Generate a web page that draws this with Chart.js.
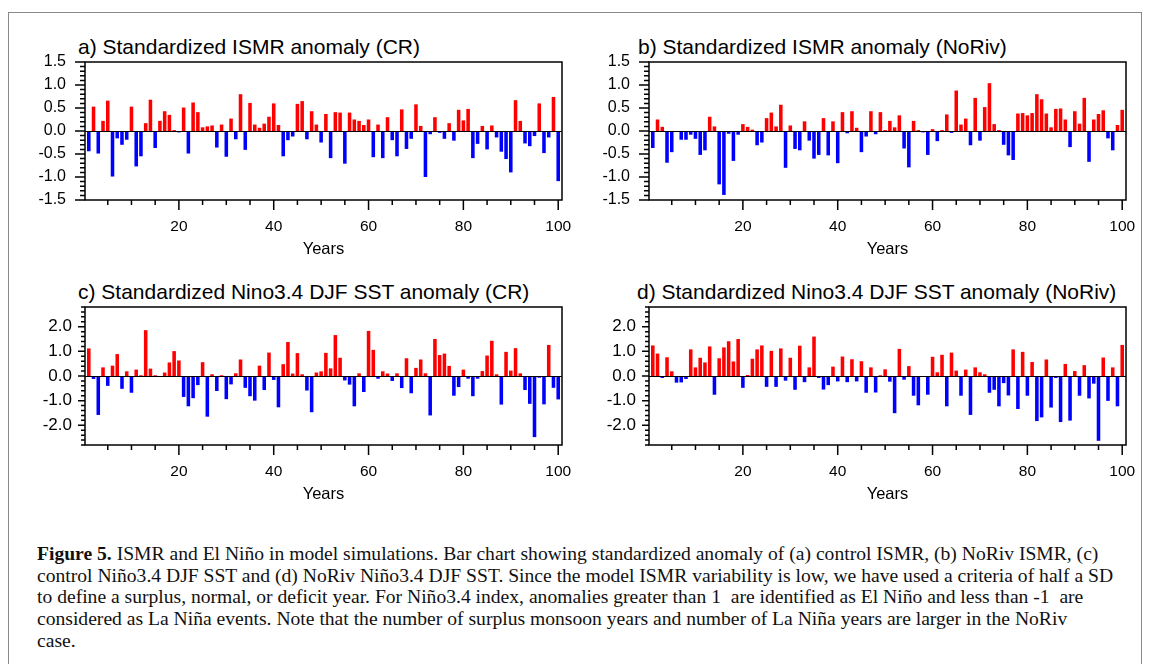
<!DOCTYPE html>
<html>
<head>
<meta charset="utf-8">
<script src="https://cdn.jsdelivr.net/npm/chart.js@4.4.1/dist/chart.umd.min.js"></script>
<style>
  html, body { margin: 0; padding: 0; background: #fff; }
  body { width: 1152px; height: 664px; position: relative; overflow: hidden; }
  .frame { position: absolute; left: 8px; top: 12px; width: 1134px; height: 700px; border: 1.5px solid #8a8a8a; box-sizing: border-box; }
  .panel { position: absolute; width: 555px; height: 215px; }
  .ptitle { position: absolute; font-family: "Liberation Sans", Arial, sans-serif; font-size: 21px; line-height: 24px; color: #000; white-space: nowrap; }
  .caption { position: absolute; left: 37px; top: 543px; font-family: "Liberation Serif", "Times New Roman", serif; font-size: 19.6px; line-height: 21.7px; color: #111; }
  .caption div { white-space: nowrap; }
</style>
</head>
<body>
<div class="frame"></div>

<div class="ptitle" style="left:78px; top:35px;">a) Standardized ISMR anomaly (CR)</div>
<div class="ptitle" style="left:638px; top:35px;">b) Standardized ISMR anomaly (NoRiv)</div>
<div class="ptitle" style="left:78px; top:280px;">c) Standardized Nino3.4 DJF SST anomaly (CR)</div>
<div class="ptitle" style="left:637px; top:280px;">d) Standardized Nino3.4 DJF SST anomaly (NoRiv)</div>

<div class="panel" style="left:20px; top:47px;"><canvas id="chartA"></canvas></div>
<div class="panel" style="left:584px; top:47px;"><canvas id="chartB"></canvas></div>
<div class="panel" style="left:20px; top:292px;"><canvas id="chartC"></canvas></div>
<div class="panel" style="left:584px; top:292px;"><canvas id="chartD"></canvas></div>

<div class="caption">
  <div><b>Figure 5.</b> ISMR and El Niño in model simulations. Bar chart showing standardized anomaly of (a) control ISMR, (b) NoRiv ISMR, (c)</div>
  <div>control Niño3.4 DJF SST and (d) NoRiv Niño3.4 DJF SST. Since the model ISMR variability is low, we have used a criteria of half a SD</div>
  <div>to define a surplus, normal, or deficit year. For Niño3.4 index, anomalies greater than 1&nbsp; are identified as El Niño and less than -1&nbsp; are</div>
  <div>considered as La Niña events. Note that the number of surplus monsoon years and number of La Niña years are larger in the NoRiv</div>
  <div>case.</div>
</div>

<script>
// model years 1..100
const years = Array.from({ length: 100 }, (_, i) => i + 1);

// a) standardized ISMR anomaly, control run
const ismrCR = [
  -0.44, 0.53, -0.49, 0.22, 0.66, -0.99, -0.16, -0.30, -0.19, 0.53,
  -0.77, -0.55, 0.17, 0.68, -0.37, 0.22, 0.43, 0.35, 0.02, -0.03,
  0.51, -0.49, 0.62, 0.41, 0.08, 0.10, 0.12, -0.36, 0.14, -0.56,
  0.27, -0.18, 0.80, -0.41, 0.61, 0.14, 0.07, 0.16, 0.31, 0.60,
  0.13, -0.55, -0.20, -0.12, 0.59, 0.65, -0.18, 0.43, 0.14, -0.25,
  0.37, -0.59, 0.41, 0.40, -0.71, 0.40, 0.25, 0.22, 0.13, 0.25,
  -0.57, 0.14, -0.59, 0.30, -0.20, -0.55, 0.47, -0.39, -0.17, 0.58,
  0.11, -1.00, -0.07, 0.30, -0.04, -0.17, 0.17, -0.21, 0.46, 0.23,
  0.48, -0.59, -0.28, 0.11, -0.40, 0.12, -0.14, -0.45, -0.61, -0.90,
  0.67, 0.22, -0.27, -0.33, -0.11, 0.60, -0.48, -0.14, 0.74, -1.09
];

// b) standardized ISMR anomaly, no-river run
const ismrNoRiv = [
  -0.37, 0.25, 0.09, -0.69, -0.46, -0.01, -0.19, -0.19, -0.08, -0.17,
  -0.52, -0.42, 0.31, 0.10, -1.16, -1.39, -0.06, -0.65, -0.08, 0.15,
  0.09, 0.03, -0.31, -0.25, 0.28, 0.40, 0.10, 0.57, -0.80, 0.12,
  -0.39, -0.42, 0.21, -0.21, -0.60, -0.52, 0.28, -0.53, 0.21, -0.70,
  0.41, -0.05, 0.43, 0.07, -0.46, -0.12, 0.43, -0.07, 0.41, 0.02,
  0.22, 0.08, 0.34, -0.38, -0.79, 0.22, 0.02, -0.03, -0.52, 0.04,
  -0.22, 0.02, 0.36, -0.04, 0.88, 0.14, 0.27, -0.31, 0.72, -0.21,
  0.52, 1.04, 0.15, 0.02, -0.30, -0.53, -0.63, 0.38, 0.39, 0.34,
  0.39, 0.80, 0.69, 0.38, 0.08, 0.48, 0.49, 0.25, -0.35, 0.43,
  0.16, 0.72, -0.67, 0.25, 0.37, 0.45, -0.16, -0.42, 0.13, 0.46
];

// c) standardized Nino3.4 DJF SST anomaly, control run
const ninoCR = [
  1.12, -0.12, -1.58, 0.35, -0.40, 0.42, 0.89, -0.52, 0.19, -0.68,
  0.26, 0.03, 1.86, 0.30, 0.03, -0.04, 0.14, 0.55, 1.01, 0.63,
  -0.85, -1.23, -0.90, -0.37, 0.56, -1.65, 0.07, -0.61, 0.03, -0.94,
  -0.34, 0.11, 0.67, -0.48, -0.82, -1.00, 0.42, -0.57, 0.95, -0.16,
  -1.27, 0.48, 1.38, 0.10, 0.93, 0.07, -0.59, -1.47, 0.14, 0.19,
  0.94, 0.31, 1.66, 0.74, -0.18, -0.35, -1.23, 0.11, -0.65, 1.83,
  1.06, -0.11, 0.19, 0.10, -0.20, 0.11, -0.49, 0.72, -0.70, 0.33,
  0.67, 0.11, -1.60, 1.50, 0.85, 0.91, 0.41, -0.80, -0.45, 0.26,
  -0.11, -0.82, -0.11, 0.20, 0.83, 1.43, 0.07, -1.16, 0.98, 0.22,
  1.13, 0.11, -0.57, -1.13, -2.48, -0.07, -1.15, 1.26, -0.48, -0.95
];

// d) standardized Nino3.4 DJF SST anomaly, no-river run
const ninoNoRiv = [
  1.24, 0.91, -0.08, 0.76, 0.19, -0.27, -0.26, -0.12, 1.08, 0.35,
  0.74, 0.55, 1.20, -0.76, 0.72, 1.16, 1.41, 0.59, 1.50, -0.48,
  0.04, 0.70, 1.08, 1.24, -0.44, 1.02, -0.44, 1.12, -0.19, 0.74,
  -0.56, 1.23, -0.25, 0.35, 1.60, -0.08, -0.55, -0.37, 0.38, -0.22,
  0.79, -0.25, 0.68, -0.22, 0.60, -0.68, 0.35, -0.67, 0.03, 0.27,
  -0.23, -1.51, 1.10, -0.15, 0.40, -0.80, -1.19, -0.04, -0.76, 0.78,
  0.15, 0.86, -1.23, 0.95, 0.22, -0.80, 0.26, -1.58, 0.35, 0.15,
  0.07, -0.68, -0.56, -1.23, -0.29, -0.79, 1.08, -1.34, 0.98, -0.80,
  0.57, -1.83, -1.68, 0.67, -1.28, -0.08, -1.87, 0.49, -1.81, 0.20,
  -0.80, 0.44, -0.91, -0.31, -2.63, 0.75, -1.01, 0.35, -1.23, 1.26
];

// tick labels
const xTicks = [20, 40, 60, 80, 100];
const ismrTicks = [-1.5, -1.0, -0.5, 0.0, 0.5, 1.0, 1.5];
const ninoTicks = [-2.0, -1.0, 0.0, 1.0, 2.0];

Chart.defaults.font.family = '"Liberation Sans", Arial, sans-serif';
Chart.defaults.color = '#000';

// black box, outward NCL-style tick marks and zero line
const ncl = {
  id: 'ncl',
  afterDatasetsDraw(chart) {
    const { ctx, chartArea: a, scales: { y } } = chart;
    const y0 = Math.round(y.getPixelForValue(0)) + 0.5;
    ctx.save();
    ctx.strokeStyle = '#000';
    ctx.lineWidth = 1;
    ctx.beginPath();
    ctx.moveTo(a.left, y0);
    ctx.lineTo(a.right, y0);
    ctx.stroke();
    ctx.restore();
  },
  afterDraw(chart, args, opts) {
    const { ctx, chartArea: a, scales: { x, y } } = chart;
    ctx.save();
    ctx.strokeStyle = '#000';
    ctx.lineWidth = 1.5;
    ctx.strokeRect(a.left, a.top, a.right - a.left, a.bottom - a.top);
    ctx.beginPath();
    for (let v = 5; v <= 100; v += 5) {
      const px = x.getPixelForValue(v);
      const len = v % 20 === 0 ? 10 : 5;
      ctx.moveTo(px, a.bottom);
      ctx.lineTo(px, a.bottom + len);
    }
    const n = Math.round((opts.max - opts.min) / opts.minor);
    for (let k = 0; k <= n; k++) {
      const v = opts.min + k * opts.minor;
      const py = y.getPixelForValue(v);
      const isMajor = opts.major.some(m => Math.abs(m - v) < 1e-6);
      const len = isMajor ? opts.majorLen : opts.minorLen;
      ctx.moveTo(a.left, py);
      ctx.lineTo(a.left - len, py);
    }
    ctx.stroke();
    ctx.restore();
  }
};

// no automatic padding from tick labels, the boxes are fixed by hand
function noPad(s) {
  s.paddingLeft = 0; s.paddingRight = 0; s.paddingTop = 0; s.paddingBottom = 0;
}

function makeChart(id, values, yMin, yMax, yTicks, minorStep, yPad, yFont, majorLen, minorLen) {
  const points = years.map((yr, i) => ({ x: yr, y: values[i] }));
  return new Chart(document.getElementById(id), {
    type: 'bar',
    data: {
      datasets: [{
        data: points,
        backgroundColor: ctx => (ctx.raw && ctx.raw.y >= 0) ? '#ff0000' : '#0000ff',
        borderWidth: 0,
        barPercentage: 0.75,
        categoryPercentage: 1.0
      }]
    },
    options: {
      responsive: false,
      animation: false,
      devicePixelRatio: 1,
      layout: { autoPadding: false, padding: { top: 15, right: 13, left: 0, bottom: 0 } },
      plugins: {
        legend: { display: false },
        tooltip: { enabled: false },
        ncl: { min: yMin, max: yMax, minor: minorStep, major: yTicks, majorLen: majorLen, minorLen: minorLen }
      },
      scales: {
        x: {
          type: 'linear',
          min: 0.2,
          max: 100.8,
          offset: false,
          grid: { display: false, drawTicks: false },
          border: { display: false },
          afterBuildTicks: s => { s.ticks = xTicks.map(v => ({ value: v })); },
          afterFit: s => { s.height = 62; noPad(s); },
          ticks: { padding: 17, font: { size: 15.5 }, color: '#000', maxRotation: 0, autoSkip: false },
          title: { display: true, text: 'Years', font: { size: 16.5 }, color: '#000', padding: { top: 0, bottom: 3 } }
        },
        y: {
          min: yMin,
          max: yMax,
          grid: { display: false, drawTicks: false },
          border: { display: false },
          afterBuildTicks: s => { s.ticks = yTicks.map(v => ({ value: v })); },
          afterFit: s => { s.width = 65; noPad(s); },
          ticks: { padding: yPad, font: { size: yFont }, color: '#000', autoSkip: false, callback: v => Number(v).toFixed(1) }
        }
      }
    },
    plugins: [ncl]
  });
}

function sizeCanvas(id) {
  const c = document.getElementById(id);
  c.width = 555; c.height = 215;
  c.style.width = '555px'; c.style.height = '215px';
}
['chartA', 'chartB', 'chartC', 'chartD'].forEach(sizeCanvas);

makeChart('chartA', ismrCR, -1.5, 1.5, ismrTicks, 0.1, 19, 16, 10, 5);
makeChart('chartB', ismrNoRiv, -1.5, 1.5, ismrTicks, 0.1, 19, 16, 10, 5);
makeChart('chartC', ninoCR, -2.8, 2.8, ninoTicks, 0.2, 13, 17, 7, 4);
makeChart('chartD', ninoNoRiv, -2.8, 2.8, ninoTicks, 0.2, 13, 17, 7, 4);
</script>
</body>
</html>
